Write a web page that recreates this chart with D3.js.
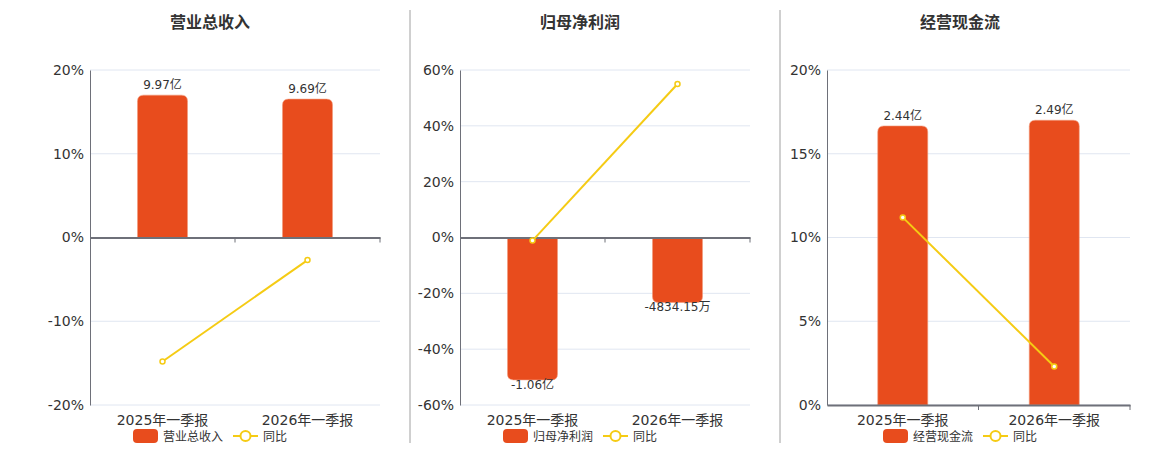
<!DOCTYPE html>
<html>
<head>
<meta charset="utf-8">
<script src="https://cdn.jsdelivr.net/npm/d3@7"></script>
<style>
  body { margin: 0; background: #fff; }
  svg text { font-family: "DejaVu Sans", "Noto Sans CJK SC", sans-serif; }
</style>
</head>
<body>
<div id="chart"></div>
<script>
'use strict'

// ---------- data ----------
const categories = ['2025年一季报', '2026年一季报']

const titles = ['营业总收入', '归母净利润', '经营现金流']

// bar values in 亿
const revenueValues = [9.97, 9.69]
const profitValues = [-1.06, -0.483415]
const cashValues = [2.44, 2.49]

const revenueLabels = ['9.97亿', '9.69亿']
const profitLabels = ['-1.06亿', '-4834.15万']
const cashLabels = ['2.44亿', '2.49亿']

// 同比 (%)
const revenueYoy = [-14.8, -2.7]
const profitYoy = [-1.1, 55.0]
const cashYoy = [11.2, 2.3]

const revenueTicks = [-20, -10, 0, 10, 20]
const profitTicks = [-60, -40, -20, 0, 20, 40, 60]
const cashTicks = [0, 5, 10, 15, 20]

// ---------- layout ----------
const W = 1160, H = 450
const plotTop = 70, plotBottom = 405
const barColor = '#e84c1d'
const lineColor = '#f5cb14'

const panels = [
    { title: titles[0], values: revenueValues, labels: revenueLabels, yoy: revenueYoy, ticks: revenueTicks, x0: 90, x1: 380, cx: 210 },
    { title: titles[1], values: profitValues, labels: profitLabels, yoy: profitYoy, ticks: profitTicks, x0: 460, x1: 750, cx: 580 },
    { title: titles[2], values: cashValues, labels: cashLabels, yoy: cashYoy, ticks: cashTicks, x0: 827, x1: 1130, cx: 960 }
]

const svg = d3.select('#chart').append('svg')
    .attr('width', W).attr('height', H)

// dividers
svg.selectAll('.divider')
    .data([410, 780])
    .join('line')
    .attr('x1', d => d).attr('x2', d => d)
    .attr('y1', 10).attr('y2', 443)
    .attr('stroke', '#a0a0a0').attr('stroke-width', 1)

// bar path with rounded outer end
function barPath(x, w, y0, y1, r) {
    const h = Math.abs(y1 - y0)
    r = Math.min(r, h, w / 2)
    if (y1 < y0) {
        return `M${x},${y0} V${y1 + r} Q${x},${y1} ${x + r},${y1} H${x + w - r} Q${x + w},${y1} ${x + w},${y1 + r} V${y0} Z`
    }
    return `M${x},${y0} V${y1 - r} Q${x},${y1} ${x + r},${y1} H${x + w - r} Q${x + w},${y1} ${x + w},${y1 - r} V${y0} Z`
}

panels.forEach(p => {
    const g = svg.append('g')

    const yExt = d3.extent(p.ticks)
    const y = d3.scaleLinear().domain(yExt).range([plotBottom, plotTop])
    const x = d3.scaleBand().domain(categories).range([p.x0, p.x1])

    // bars share the percent axis: largest bar reaches 85% of the axis
    const maxAbs = d3.max(p.values, v => Math.abs(v))
    const axisAbs = d3.max(yExt, v => Math.abs(v))
    const yBar = d3.scaleLinear().domain([0, maxAbs]).range([y(0), y(0.85 * axisAbs)])
    // position of a (possibly negative) bar end
    const barEnd = d => d >= 0 ? yBar(d) : 2 * y(0) - yBar(-d)

    // title
    g.append('text')
        .attr('x', p.cx).attr('y', 28)
        .attr('text-anchor', 'middle')
        .attr('font-size', 16).attr('font-weight', 'bold')
        .attr('fill', '#333')
        .style('font-family', '"Noto Sans CJK SC", sans-serif')
        .text(p.title)

    // grid
    g.append('g')
        .selectAll('line')
        .data(p.ticks)
        .join('line')
        .attr('x1', p.x0).attr('x2', p.x1)
        .attr('y1', d => y(d)).attr('y2', d => y(d))
        .attr('stroke', '#e0e6f1')

    // y axis
    const yAxis = g.append('g')
        .attr('transform', `translate(${p.x0},0)`)
        .call(d3.axisLeft(y).tickValues(p.ticks).tickFormat(d => d + '%').tickSize(0).tickPadding(6))
    yAxis.select('.domain').attr('stroke', '#6e7079')
    yAxis.selectAll('text').attr('font-size', 14).attr('fill', '#333')

    // bars
    const bw = 50
    g.append('g')
        .selectAll('path')
        .data(p.values)
        .join('path')
        .attr('d', (d, i) => barPath(x(categories[i]) + x.bandwidth() / 2 - bw / 2, bw, y(0), barEnd(d), 6))
        .attr('fill', barColor)
        .attr('stroke', '#f29a7c').attr('stroke-width', 0.6)

    // bar labels
    g.append('g')
        .selectAll('text')
        .data(p.values)
        .join('text')
        .attr('x', (d, i) => x(categories[i]) + x.bandwidth() / 2)
        .attr('y', d => d >= 0 ? barEnd(d) - 6 : barEnd(d) + 9)
        .attr('text-anchor', 'middle')
        .attr('font-size', 12).attr('fill', '#333')
        .text((d, i) => p.labels[i])

    // x axis at zero
    const xAxis = g.append('g')
        .attr('transform', `translate(0,${y(0)})`)
        .call(d3.axisBottom(x).tickSize(0).tickFormat(''))
    xAxis.select('.domain').attr('stroke', '#6e7079').attr('stroke-width', 2)
    g.append('g')
        .selectAll('line')
        .data([p.x0 + x.step(), p.x1])
        .join('line')
        .attr('x1', d => d).attr('x2', d => d)
        .attr('y1', y(0)).attr('y2', y(0) + 5)
        .attr('stroke', '#6e7079')

    // category labels
    g.append('g')
        .selectAll('text')
        .data(categories)
        .join('text')
        .attr('x', d => x(d) + x.bandwidth() / 2)
        .attr('y', 425)
        .attr('text-anchor', 'middle')
        .attr('font-size', 14).attr('fill', '#333')
        .text(d => d)

    // yoy line
    const line = d3.line()
        .x((d, i) => x(categories[i]) + x.bandwidth() / 2)
        .y(d => y(d))
    g.append('path')
        .datum(p.yoy)
        .attr('d', line)
        .attr('fill', 'none')
        .attr('stroke', lineColor).attr('stroke-width', 2)
    g.append('g')
        .selectAll('circle')
        .data(p.yoy)
        .join('circle')
        .attr('cx', (d, i) => x(categories[i]) + x.bandwidth() / 2)
        .attr('cy', d => y(d))
        .attr('r', 2.5)
        .attr('fill', '#fff')
        .attr('stroke', lineColor).attr('stroke-width', 1.5)

    // legend
    const lg = g.append('g').attr('transform', `translate(${p.cx - 77},436)`)
    lg.append('rect')
        .attr('x', 0).attr('y', -7).attr('width', 25).attr('height', 14)
        .attr('rx', 4).attr('fill', barColor)
    lg.append('text')
        .attr('x', 30).attr('y', 4.5)
        .attr('font-size', 12).attr('fill', '#333')
        .style('font-family', '"Noto Sans CJK SC", sans-serif')
        .text(p.title)
    lg.append('line')
        .attr('x1', 100).attr('x2', 125).attr('y1', 0).attr('y2', 0)
        .attr('stroke', lineColor).attr('stroke-width', 2)
    lg.append('circle')
        .attr('cx', 112.5).attr('cy', 0).attr('r', 5)
        .attr('fill', '#fff').attr('stroke', lineColor).attr('stroke-width', 2)
    lg.append('text')
        .attr('x', 130).attr('y', 4.5)
        .attr('font-size', 12).attr('fill', '#333')
        .style('font-family', '"Noto Sans CJK SC", sans-serif')
        .text('同比')
})
</script>
</body>
</html>
